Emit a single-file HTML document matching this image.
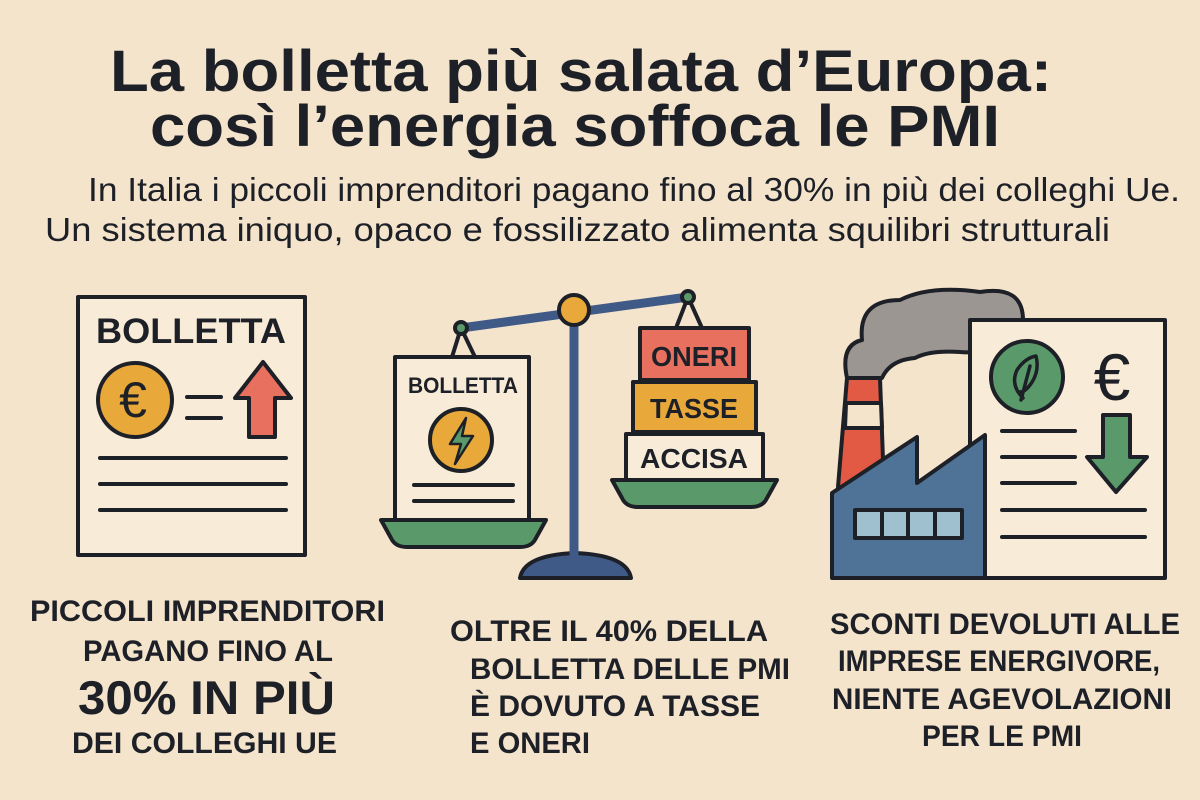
<!DOCTYPE html>
<html><head><meta charset="utf-8"><style>
html,body{margin:0;padding:0;background:#f4e4cc;}
svg{display:block}
text{font-family:"Liberation Sans",sans-serif;fill:#1e2027}
</style></head><body>
<svg width="1200" height="800" viewBox="0 0 1200 800" xmlns="http://www.w3.org/2000/svg">
<rect width="1200" height="800" fill="#f4e4cc"/>
<g font-weight="bold">
<text x="110" y="91" font-size="58" textLength="942" lengthAdjust="spacingAndGlyphs">La bolletta più salata d’Europa:</text>
<text x="150" y="146" font-size="58" textLength="850" lengthAdjust="spacingAndGlyphs">così l’energia soffoca le PMI</text>
</g>
<text x="88" y="201" font-size="33" textLength="1092" lengthAdjust="spacingAndGlyphs">In Italia i piccoli imprenditori pagano fino al 30% in più dei colleghi Ue.</text>
<text x="45" y="241" font-size="33" textLength="1065" lengthAdjust="spacingAndGlyphs">Un sistema iniquo, opaco e fossilizzato alimenta squilibri strutturali</text>

<g stroke="#1e2027" stroke-width="4" stroke-linejoin="round" stroke-linecap="round">
<rect x="78" y="297" width="227" height="258" fill="#f8ecd8"/>
<circle cx="135" cy="400" r="37" fill="#e9a93a"/>
<line x1="187" y1="397" x2="221" y2="397"/><line x1="187" y1="418" x2="221" y2="418"/>
<polygon points="263,362 291,398 275,398 275,437 249,437 249,398 235,398" fill="#e8705f"/>
<line x1="100" y1="458" x2="286" y2="458"/><line x1="100" y1="484" x2="286" y2="484"/><line x1="100" y1="510" x2="286" y2="510"/>

<path d="M520,578 Q524,555 575,553 Q627,555 631,578 Z" fill="#3f5a86"/>
<line x1="574" y1="310" x2="574" y2="560" stroke="#3f5a86" stroke-width="9"/>
<line x1="461" y1="328" x2="688" y2="297" stroke="#3f5a86" stroke-width="9"/>
<path d="M452,357 L461,328 L475,357" fill="none"/>
<path d="M676,328 L688,297 L702,328" fill="none"/>
<circle cx="461" cy="328" r="6" fill="#5a9a6a"/>
<circle cx="688" cy="297" r="6" fill="#5a9a6a"/>
<circle cx="574" cy="310" r="15" fill="#e9a93a"/>
<rect x="395" y="357" width="134" height="163" fill="#f8ecd8"/>
<circle cx="461" cy="440" r="31" fill="#e9a93a"/>
<polygon points="466,418 450,444 461,444 455,464 473,436 462,436" fill="#5a9a6a" stroke-width="2.5"/>
<line x1="414" y1="485" x2="513" y2="485"/><line x1="414" y1="501" x2="513" y2="501"/>
<path d="M381,520 L546,520 L536,538 Q532,547 520,547 L407,547 Q395,547 391,538 Z" fill="#5a9a6a"/>
<rect x="640" y="328" width="109" height="52" fill="#e8705f"/>
<rect x="633" y="382" width="123" height="50" fill="#e9a93a"/>
<rect x="626" y="434" width="137" height="46" fill="#f8ecd8"/>
<path d="M612,480 L777,480 L767,498 Q763,507 751,507 L638,507 Q626,507 622,498 Z" fill="#5a9a6a"/>

<path d="M847,378 Q840,345 862,340 Q858,300 900,300 Q930,285 980,292 Q1023,285 1023,320 L1000,330 Q990,355 960,352 Q930,350 915,358 Q890,360 882,378 Z" fill="#9c9693"/>
<polygon points="847,378 880,378 884,487 838,487" fill="#e25a43"/>
<polygon points="846,403 881,403 882,428 845,428" fill="#f4e4cc"/>
<rect x="970" y="320" width="195" height="258" fill="#f8ecd8"/>
<polygon points="832,493 917,437 917,483 985,435 985,578 832,578" fill="#4f7396"/>
<rect x="855" y="510" width="107" height="28" fill="#9fc1cf"/>
<line x1="882" y1="510" x2="882" y2="538"/><line x1="908" y1="510" x2="908" y2="538"/><line x1="935" y1="510" x2="935" y2="538"/>
<circle cx="1027" cy="377" r="36" fill="#5a9a6a"/>
<path d="M1023,398 Q1010,385 1017,370 Q1025,358 1036,356 Q1040,372 1030,385 Q1024,393 1018,392 M1030,366 L1021,400" fill="none" stroke-width="3.5"/>
<polygon points="1103,415 1130,415 1130,457 1147,457 1116,492 1087,457 1103,457" fill="#5a9a6a"/>
<line x1="1002" y1="431" x2="1075" y2="431"/><line x1="1002" y1="457" x2="1075" y2="457"/><line x1="1002" y1="483" x2="1075" y2="483"/>
<line x1="1002" y1="510" x2="1145" y2="510"/><line x1="1002" y1="537" x2="1145" y2="537"/>
</g>

<g font-weight="bold">
<text x="96" y="343" font-size="35" textLength="190" lengthAdjust="spacingAndGlyphs">BOLLETTA</text>
<text x="408" y="393" font-size="22" textLength="110" lengthAdjust="spacingAndGlyphs">BOLLETTA</text>
<text x="694" y="366" font-size="28" text-anchor="middle" textLength="86" lengthAdjust="spacingAndGlyphs">ONERI</text>
<text x="694" y="418" font-size="28" text-anchor="middle" textLength="88" lengthAdjust="spacingAndGlyphs">TASSE</text>
<text x="694" y="468" font-size="28" text-anchor="middle" textLength="108" lengthAdjust="spacingAndGlyphs">ACCISA</text>
</g>
<text x="133" y="417" font-size="50" text-anchor="middle">€</text>
<text x="1112" y="400" font-size="66" text-anchor="middle">€</text>

<g font-weight="bold" font-size="30">
<text x="30" y="621" textLength="355" lengthAdjust="spacingAndGlyphs">PICCOLI IMPRENDITORI</text>
<text x="83" y="661" textLength="250" lengthAdjust="spacingAndGlyphs">PAGANO FINO AL</text>
<text x="78" y="714" font-size="47" textLength="257" lengthAdjust="spacingAndGlyphs">30% IN PIÙ</text>
<text x="72" y="753" textLength="265" lengthAdjust="spacingAndGlyphs">DEI COLLEGHI UE</text>
<text x="450" y="641" textLength="318" lengthAdjust="spacingAndGlyphs">OLTRE IL 40% DELLA</text>
<text x="470" y="679" textLength="320" lengthAdjust="spacingAndGlyphs">BOLLETTA DELLE PMI</text>
<text x="470" y="716" textLength="290" lengthAdjust="spacingAndGlyphs">È DOVUTO A TASSE</text>
<text x="470" y="753" textLength="120" lengthAdjust="spacingAndGlyphs">E ONERI</text>
<text x="830" y="634" textLength="350" lengthAdjust="spacingAndGlyphs">SCONTI DEVOLUTI ALLE</text>
<text x="838" y="671" textLength="322" lengthAdjust="spacingAndGlyphs">IMPRESE ENERGIVORE,</text>
<text x="832" y="709" textLength="340" lengthAdjust="spacingAndGlyphs">NIENTE AGEVOLAZIONI</text>
<text x="922" y="746" textLength="160" lengthAdjust="spacingAndGlyphs">PER LE PMI</text>
</g>
</svg>
</body></html>
